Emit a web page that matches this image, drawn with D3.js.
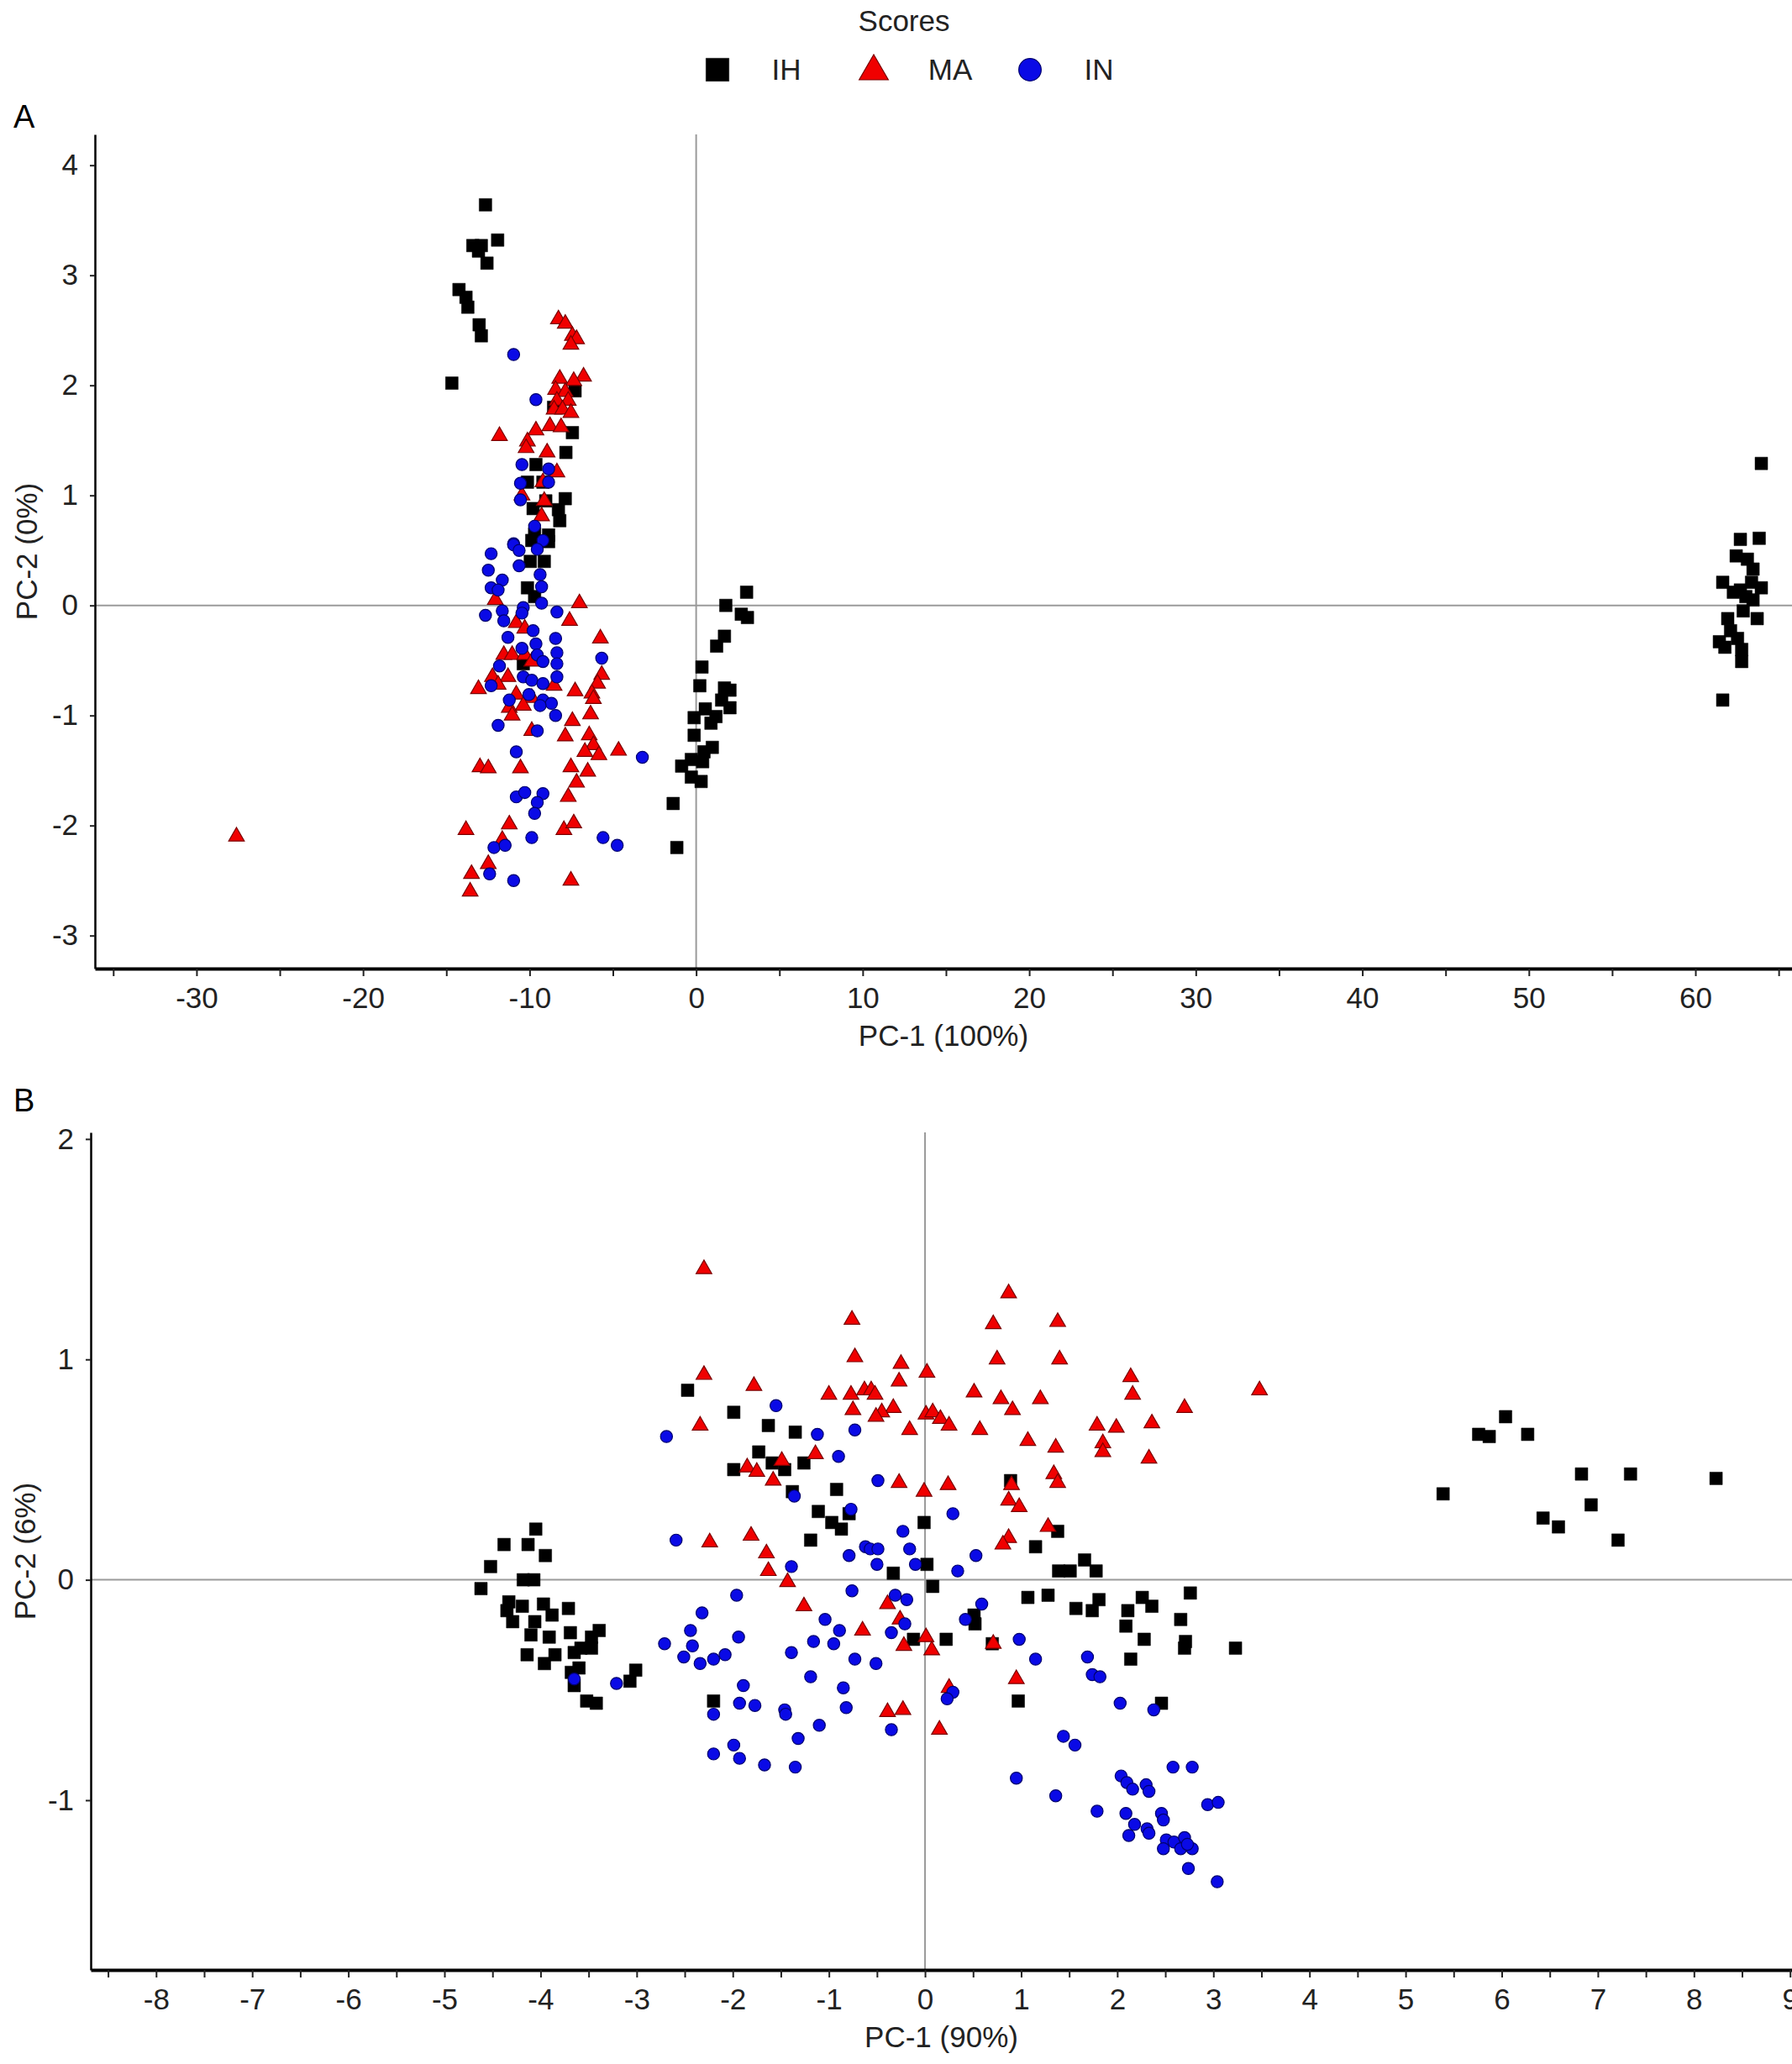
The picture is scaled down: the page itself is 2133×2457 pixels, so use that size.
<!DOCTYPE html>
<html><head><meta charset="utf-8">
<script src="https://cdn.jsdelivr.net/npm/d3@7"></script>
<style>
body{margin:0;background:#fff}
svg{display:block}
text{font-family:"Liberation Sans",Arial,Helvetica,sans-serif;fill:#222}
</style>
</head><body>
<svg id="chart" width="2133" height="2457"></svg>
<script>
// ---------------- DATA ----------------
const seriesNames = ["IH", "MA", "IN"];
const legendTitle = "Scores";

const panelATitle = "A", panelBTitle = "B";
const axisA = { x: "PC-1 (100%)", y: "PC-2 (0%)" };
const axisB = { x: "PC-1 (90%)", y: "PC-2 (6%)" };

const xTicksA = [-35,-30,-25,-20,-15,-10,-5,0,5,10,15,20,25,30,35,40,45,50,55,60,65];
const yTicksA = [-3,-2,-1,0,1,2,3,4];
const xTicksB = [-8.5,-8,-7.5,-7,-6.5,-6,-5.5,-5,-4.5,-4,-3.5,-3,-2.5,-2,-1.5,-1,-0.5,0,0.5,1,1.5,2,2.5,3,3.5,4,4.5,5,5.5,6,6.5,7,7.5,8,8.5,9];
const yTicksB = [-1,0,1,2];

// Panel A scores
const A_IH = [
 [-12.65,3.64],[-11.92,3.32],[-13.41,3.27],[-12.90,3.27],[-13.07,3.22],[-12.56,3.11],[-14.24,2.87],[-13.82,2.80],
 [-13.71,2.71],[-13.03,2.55],[-12.90,2.45],[-14.67,2.02],[-7.43,1.57],[-7.82,1.39],[-9.62,1.28],[-10.13,1.12],
 [-9.20,1.12],[-7.86,0.97],[-9.03,0.95],[-9.79,0.88],[-8.27,0.87],[-8.19,0.77],[-9.70,0.65],[-8.86,0.64],
 [-7.27,1.95],[-8.56,1.80],[-9.87,0.59],[-8.86,0.58],[-9.96,0.40],[-9.12,0.40],[-10.13,0.16],[-9.70,0.08],[-10.38,-0.53],
 [3.03,0.12],[1.78,0.00],[2.71,-0.08],[3.08,-0.11],[1.70,-0.28],[1.23,-0.37],[0.35,-0.56],[0.22,-0.73],
 [1.70,-0.75],[2.03,-0.77],[1.53,-0.86],[2.03,-0.93],[0.55,-0.94],[1.19,-1.01],[-0.12,-1.02],[0.89,-1.07],
 [-0.12,-1.18],[0.97,-1.29],[0.47,-1.33],[-0.29,-1.40],[-0.87,-1.46],[0.39,-1.42],[-0.29,-1.56],[0.30,-1.60],
 [-1.38,-1.80],[-1.16,-2.20],
 [63.96,1.29],[62.70,0.60],[63.83,0.61],[62.45,0.45],[63.12,0.42],[63.46,0.33],[61.64,0.21],[62.70,0.14],
 [63.96,0.16],[63.03,0.08],[63.46,0.05],[62.87,-0.05],[63.71,-0.12],[61.94,-0.12],[62.11,-0.23],[61.44,-0.33],
 [61.77,-0.38],[62.53,-0.30],[62.78,-0.40],[62.78,-0.51],[61.64,-0.86],[62.28,0.12],[63.37,0.21]
];
const A_MA = [
 [-8.27,2.60],[-7.86,2.56],[-7.43,2.45],[-7.18,2.42],[-7.52,2.37],[-8.19,2.06],[-6.76,2.08],[-7.35,2.04],
 [-8.44,1.96],[-7.86,1.94],[-8.36,1.86],[-7.68,1.86],[-8.53,1.78],[-8.02,1.78],[-7.52,1.75],[-11.81,1.54],
 [-9.62,1.59],[-8.78,1.63],[-8.11,1.62],[-10.13,1.49],[-10.21,1.43],[-8.95,1.39],[-8.36,1.21],[-9.20,1.12],
 [-10.46,1.00],[-9.12,0.95],[-9.28,0.81],
 [-12.06,0.05],[-7.01,0.02],[-7.60,-0.14],[-10.80,-0.16],[-10.29,-0.21],[-5.75,-0.30],[-11.55,-0.45],[-11.05,-0.45],
 [-10.29,-0.45],[-9.87,-0.51],[-5.67,-0.63],[-12.23,-0.65],[-11.30,-0.65],[-5.92,-0.71],[-13.07,-0.76],[-11.89,-0.72],
 [-8.53,-0.73],[-7.27,-0.78],[-6.26,-0.80],[-10.80,-0.81],[-6.17,-0.85],[-9.87,-0.84],[-11.22,-0.93],[-10.38,-0.91],
 [-6.34,-0.99],[-11.05,-1.00],[-7.43,-1.05],[-9.87,-1.14],[-6.42,-1.18],[-7.86,-1.19],[-6.17,-1.27],[-6.68,-1.33],
 [-5.84,-1.36],[-4.66,-1.32],[-12.98,-1.47],[-12.48,-1.48],[-10.55,-1.48],[-7.52,-1.47],[-6.51,-1.51],[-7.18,-1.61],
 [-7.68,-1.74],[-13.82,-2.04],[-11.22,-1.99],[-7.94,-2.04],[-7.35,-1.98],[-11.64,-2.13],[-12.48,-2.35],[-13.49,-2.44],
 [-7.52,-2.50],[-13.57,-2.60],[-27.6,-2.10]
];
const A_IN = [
 [-10.96,2.28],[-9.62,1.87],[-10.46,1.28],[-8.86,1.24],[-10.55,1.11],[-8.86,1.12],[-10.55,0.96],[-9.70,0.72],
 [-10.96,0.56],[-9.20,0.59],
 [-10.96,0.55],[-12.31,0.47],[-10.63,0.50],[-10.63,0.36],[-12.48,0.32],[-11.64,0.23],[-12.31,0.16],[-11.89,0.14],
 [-9.37,0.28],[-9.28,0.17],[-9.54,0.51],[-9.28,0.02],[-8.36,-0.06],[-12.65,-0.09],[-11.64,-0.05],[-11.55,-0.14],
 [-10.38,-0.02],[-10.46,-0.07],[-9.79,-0.23],[-11.30,-0.29],[-8.44,-0.30],[-9.62,-0.35],[-10.46,-0.39],[-8.36,-0.43],
 [-5.67,-0.48],[-9.54,-0.45],[-9.20,-0.51],[-8.36,-0.53],[-11.81,-0.55],[-8.36,-0.65],[-10.38,-0.65],[-9.87,-0.68],
 [-9.20,-0.71],[-12.31,-0.73],[-11.22,-0.86],[-10.04,-0.81],[-9.20,-0.86],[-8.69,-0.89],[-9.37,-0.91],[-8.44,-1.00],
 [-11.89,-1.09],[-9.54,-1.14],[-10.80,-1.33],[-3.23,-1.38],[-10.80,-1.74],[-10.29,-1.70],[-9.20,-1.71],[-9.54,-1.79],
 [-9.70,-1.89],[-9.87,-2.11],[-5.59,-2.11],[-4.74,-2.18],[-12.14,-2.20],[-11.47,-2.18],[-12.40,-2.44],[-10.96,-2.50]
];

// Panel B scores
const B_IH = [
 [-2.47,0.86],[-1.99,0.76],[-1.63,0.70],[-1.35,0.67],[-1.73,0.58],[-1.59,0.53],[-1.99,0.50],[-1.46,0.50],
 [-1.26,0.53],[-0.92,0.41],[-1.38,0.40],[-1.11,0.31],[-0.97,0.26],[-0.87,0.23],[-0.79,0.30],[-1.19,0.18],
 [-4.05,0.23],[-4.38,0.16],[-4.13,0.16],[-3.95,0.11],[-4.52,0.06],[-4.18,0.00],[-4.07,0.00],
 [-4.62,-0.04],[-4.33,-0.10],[-4.19,-0.12],[-3.97,-0.11],[-3.71,-0.13],[-4.35,-0.14],[-3.88,-0.16],[-4.29,-0.19],
 [-4.06,-0.19],[-3.39,-0.23],[-4.10,-0.25],[-3.91,-0.26],[-3.69,-0.24],[-3.47,-0.26],[-3.58,-0.31],[-3.47,-0.31],
 [-4.14,-0.34],[-3.85,-0.34],[-3.65,-0.33],[-3.96,-0.38],[-3.60,-0.40],[-3.68,-0.42],[-3.01,-0.41],[-3.07,-0.46],
 [-3.65,-0.48],[-3.52,-0.55],[-3.42,-0.56],[-2.20,-0.55],
 [0.89,0.45],[-0.01,0.26],[1.38,0.22],[1.15,0.15],[1.66,0.09],[1.78,0.04],[1.39,0.04],[1.51,0.04],
 [-0.33,0.03],[0.02,0.07],
 [0.08,-0.03],[1.07,-0.08],[1.28,-0.07],[1.57,-0.13],[1.81,-0.09],[1.74,-0.14],[2.11,-0.14],[2.26,-0.08],
 [2.36,-0.12],[2.76,-0.06],[2.09,-0.21],[2.66,-0.18],[2.28,-0.27],[2.71,-0.28],[2.70,-0.31],[3.23,-0.31],
 [2.14,-0.36],[2.46,-0.56],[0.97,-0.55],[0.51,-0.16],[0.52,-0.20],[-0.12,-0.27],[0.22,-0.27],[0.70,-0.29],
 [6.04,0.74],[5.76,0.66],[5.87,0.65],[6.27,0.66],[5.39,0.39],[6.83,0.48],[7.34,0.48],[8.23,0.46],
 [6.93,0.34],[6.43,0.28],[6.59,0.24],[7.21,0.18]
];
const B_MA = [
 [-2.30,1.41],[-0.76,1.18],[-0.73,1.01],[-2.30,0.93],[-1.78,0.88],[-1.00,0.84],[-0.77,0.84],[-0.63,0.86],
 [-0.75,0.77],[-2.34,0.70],[-1.49,0.54],[-1.85,0.51],[-1.75,0.49],[-1.58,0.45],[-1.14,0.57],[-2.24,0.17],
 [-1.81,0.20],[-1.65,0.12],[-1.63,0.04],[-1.43,-0.01],[-1.26,-0.12],[-0.65,-0.23],
 [0.87,1.30],[0.71,1.16],[1.38,1.17],[0.75,1.00],[1.40,1.00],[-0.25,0.98],[0.02,0.94],[2.14,0.92],
 [-0.27,0.90],[-0.56,0.86],[-0.52,0.84],[0.51,0.85],[2.16,0.84],[3.48,0.86],[0.79,0.82],[1.20,0.82],
 [0.91,0.77],[-0.33,0.78],[-0.45,0.76],[-0.51,0.74],[2.70,0.78],[0.01,0.75],[0.08,0.76],[0.16,0.73],
 [0.25,0.70],[-0.16,0.68],[0.57,0.68],[1.79,0.70],[1.99,0.69],[2.36,0.71],[1.07,0.63],[1.36,0.60],
 [1.85,0.62],[1.85,0.58],[2.33,0.55],[-0.27,0.44],[-0.01,0.40],[0.24,0.43],[1.34,0.48],[1.38,0.44],
 [0.90,0.43],[0.87,0.36],[0.98,0.33],[1.28,0.24],[0.87,0.19],[0.81,0.16],
 [-0.39,-0.11],[-0.26,-0.18],[-0.22,-0.30],[0.01,-0.26],[0.07,-0.32],[0.71,-0.29],[0.95,-0.45],[0.25,-0.49],
 [-0.39,-0.60],[-0.23,-0.59],[0.15,-0.68]
];
const B_IN = [
 [-1.55,0.79],[-2.69,0.65],[-1.12,0.66],[-0.73,0.68],[-0.90,0.56],[-1.36,0.38],[-0.77,0.32],[-2.59,0.18],
 [-1.39,0.06],[-0.79,0.11],[-0.62,0.15],
 [-0.49,0.45],[0.29,0.30],[-0.23,0.22],[-0.57,0.14],[-0.49,0.14],[-0.16,0.14],[0.53,0.11],[-0.50,0.07],
 [-0.10,0.07],[0.34,0.04],
 [-3.65,-0.45],[-3.21,-0.47],[-1.96,-0.07],[-0.76,-0.05],[-2.32,-0.15],[-2.44,-0.23],[-1.04,-0.18],[-1.94,-0.26],
 [-2.71,-0.29],[-2.42,-0.30],[-0.89,-0.23],[-1.16,-0.28],[-0.95,-0.29],[-1.39,-0.33],[-0.73,-0.36],[-2.51,-0.35],
 [-2.34,-0.38],[-2.20,-0.36],[-2.08,-0.34],[-1.19,-0.44],[-1.89,-0.48],[-0.85,-0.49],[-1.93,-0.56],[-1.77,-0.57],
 [-1.46,-0.59],[-1.45,-0.61],[-0.82,-0.58],[-2.20,-0.61],[-1.10,-0.66],[-1.32,-0.72],[-1.99,-0.75],[-2.20,-0.79],
 [-1.93,-0.81],[-1.67,-0.84],[-1.35,-0.85],
 [-0.31,-0.07],[-0.19,-0.09],[0.59,-0.11],[-0.21,-0.20],[0.42,-0.18],[-0.35,-0.24],[0.98,-0.27],[-0.51,-0.38],
 [1.15,-0.36],[1.69,-0.35],[1.74,-0.43],[1.82,-0.44],[0.29,-0.51],[0.23,-0.54],[2.03,-0.56],[2.38,-0.59],
 [-0.35,-0.68],[1.44,-0.71],[1.56,-0.75],[0.95,-0.90],[1.36,-0.98],[1.79,-1.05],[2.58,-0.85],[2.78,-0.85],
 [2.04,-0.89],[2.10,-0.92],[2.16,-0.95],[2.30,-0.93],[2.33,-0.96],[2.94,-1.02],[3.05,-1.01],[2.09,-1.06],
 [2.18,-1.11],[2.46,-1.06],[2.48,-1.09],[2.31,-1.13],[2.33,-1.15],[2.12,-1.16],[2.51,-1.18],[2.48,-1.22],
 [2.59,-1.19],[2.70,-1.17],[2.66,-1.22],[2.78,-1.22],[2.73,-1.20],[2.74,-1.31],[3.04,-1.37]
];

// ---------------- DRAWING ----------------
const svg = d3.select("#chart");
const FONT = 35;
const styles = {
  IH: { type: d3.symbolSquare, size: 225, fill: "#000", stroke: "#000", sw: 0.5 },
  MA: { type: d3.symbolTriangle, size: 150, fill: "#f00000", stroke: "#7a0000", sw: 1.2 },
  IN: { type: d3.symbolCircle, size: 160, fill: "#0a0ae6", stroke: "#00006e", sw: 1.2 }
};

// Legend
svg.append("text").attr("x", 1076).attr("y", 37).attr("text-anchor", "middle")
  .style("font-size", FONT + "px").text(legendTitle);
const legendPos = { IH: [854, 936], MA: [1040, 1131], IN: [1226, 1308] };
seriesNames.forEach(n => {
  const s = styles[n];
  const big = { IH: 750, MA: 520, IN: 560 }[n];
  svg.append("path").attr("d", d3.symbol().type(s.type).size(big)())
    .attr("transform", `translate(${legendPos[n][0]},${n === "MA" ? 85 : 83})`)
    .attr("fill", s.fill).attr("stroke", s.stroke).attr("stroke-width", s.sw);
  svg.append("text").attr("x", legendPos[n][1]).attr("y", 95).attr("text-anchor", "middle")
    .style("font-size", FONT + "px").text(n);
});

function panel(cfg) {
  const x = d3.scaleLinear().domain(cfg.xDomain).range([cfg.left, cfg.right]);
  const y = d3.scaleLinear().domain(cfg.yDomain).range([cfg.bottom, cfg.top]);
  const g = svg.append("g");

  // panel letter
  g.append("text").attr("x", 16).attr("y", cfg.letterY).style("font-size", "38px")
    .style("fill", "#000").text(cfg.letter);

  // reference lines at zero
  g.append("line").attr("x1", x(0)).attr("x2", x(0)).attr("y1", cfg.top).attr("y2", cfg.bottom)
    .attr("stroke", "#9a9a9a").attr("stroke-width", 2);
  g.append("line").attr("x1", cfg.left).attr("x2", cfg.right).attr("y1", y(0)).attr("y2", y(0))
    .attr("stroke", "#9a9a9a").attr("stroke-width", 2);

  // x axis
  const xa = g.append("g").attr("transform", `translate(0,${cfg.bottom})`)
    .call(d3.axisBottom(x).tickValues(cfg.xTicks).tickSize(9).tickSizeOuter(0).tickPadding(13)
      .tickFormat(d => Number.isInteger(d / cfg.xLabelStep) ? String(d) : ""));
  xa.select(".domain").attr("stroke", "#000").attr("stroke-width", 4);
  xa.selectAll(".tick line").attr("stroke", "#222").attr("stroke-width", 2);
  xa.selectAll(".tick text").style("font-size", FONT + "px").attr("fill", "#222")
    .style("font-family", '"Liberation Sans",Arial,sans-serif');

  // y axis
  const ya = g.append("g").attr("transform", `translate(${cfg.left},0)`)
    .call(d3.axisLeft(y).tickValues(cfg.yTicks).tickSize(6).tickSizeOuter(0).tickPadding(14)
      .tickFormat(d => String(d)));
  ya.select(".domain").attr("stroke", "#000").attr("stroke-width", 2.5);
  ya.selectAll(".tick line").attr("stroke", "#222").attr("stroke-width", 2);
  ya.selectAll(".tick text").style("font-size", FONT + "px").attr("fill", "#222")
    .style("font-family", '"Liberation Sans",Arial,sans-serif');

  // axis titles
  g.append("text").attr("x", (cfg.left + cfg.right) / 2).attr("y", cfg.xTitleY)
    .attr("text-anchor", "middle").style("font-size", FONT + "px").text(cfg.xTitle);
  g.append("text").attr("transform", `translate(${cfg.yTitleX},${(cfg.top + cfg.bottom) / 2}) rotate(-90)`)
    .attr("text-anchor", "middle").style("font-size", FONT + "px").text(cfg.yTitle);

  // points
  const sets = { IH: cfg.IH, MA: cfg.MA, IN: cfg.IN };
  ["IH", "MA", "IN"].forEach(n => {
    const s = styles[n];
    g.append("g").selectAll("path").data(sets[n]).join("path")
      .attr("d", d3.symbol().type(s.type).size(s.size)())
      .attr("transform", d => `translate(${x(d[0])},${y(d[1])})`)
      .attr("fill", s.fill).attr("stroke", s.stroke).attr("stroke-width", s.sw);
  });
}

panel({
  letter: panelATitle, letterY: 152,
  xDomain: [-36.1, 65.8], yDomain: [-3.30, 4.28],
  left: 113, right: 2133, top: 160, bottom: 1153,
  xTicks: xTicksA, yTicks: yTicksA, xLabelStep: 10,
  xTitle: axisA.x, yTitle: axisA.y, xTitleY: 1245, yTitleX: 44,
  IH: A_IH, MA: A_MA, IN: A_IN
});

panel({
  letter: panelBTitle, letterY: 1323,
  xDomain: [-8.68, 9.02], yDomain: [-1.77, 2.03],
  left: 108, right: 2133, top: 1348, bottom: 2345,
  xTicks: xTicksB, yTicks: yTicksB, xLabelStep: 1,
  xTitle: axisB.x, yTitle: axisB.y, xTitleY: 2437, yTitleX: 42,
  IH: B_IH, MA: B_MA, IN: B_IN
});
</script>
</body></html>
